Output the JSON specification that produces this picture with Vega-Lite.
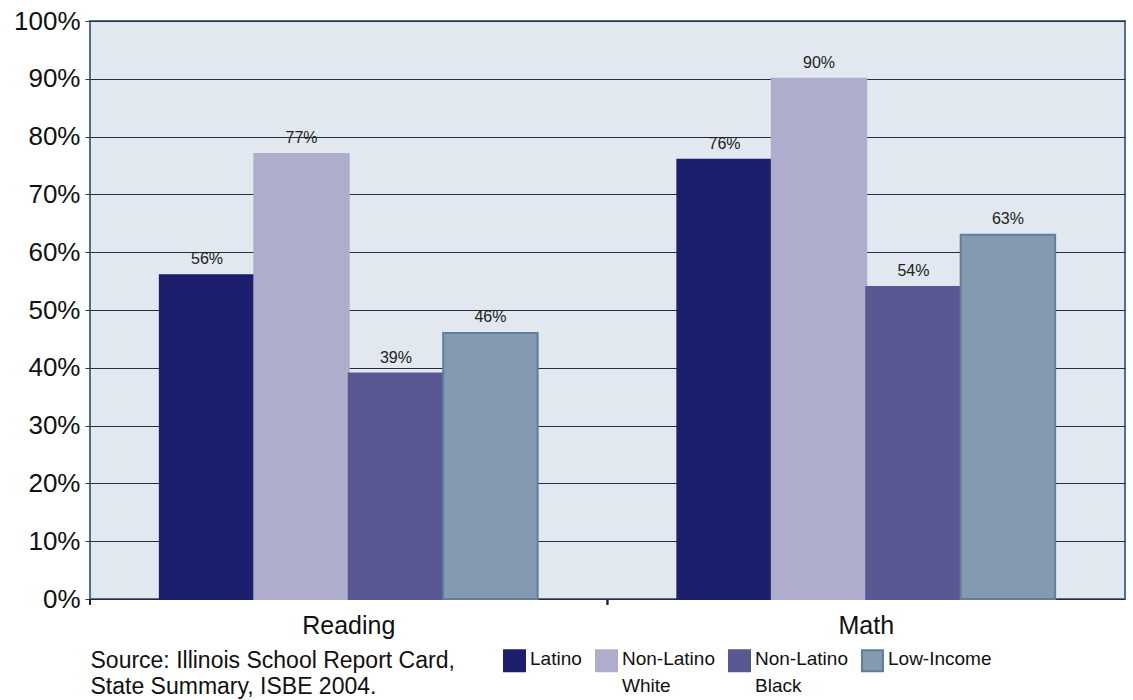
{
  "$schema": "https://vega.github.io/schema/vega-lite/v6.json",
  "width": 1035,
  "height": 578,
  "autosize": {"type": "none"},
  "padding": {"left": 90, "top": 21, "right": 8, "bottom": 101},
  "background": "white",
  "config": {
    "font": "Liberation Sans",
    "view": {"fill": "#e1e8f0", "stroke": "#50708f", "strokeWidth": 2}
  },
  "data": {
    "values": [
      {"subject": "Reading", "group": "Latino", "value": 56},
      {"subject": "Reading", "group": "Non-Latino White", "value": 77},
      {"subject": "Reading", "group": "Non-Latino Black", "value": 39},
      {"subject": "Reading", "group": "Low-Income", "value": 46},
      {"subject": "Math", "group": "Latino", "value": 76},
      {"subject": "Math", "group": "Non-Latino White", "value": 90},
      {"subject": "Math", "group": "Non-Latino Black", "value": 54},
      {"subject": "Math", "group": "Low-Income", "value": 63}
    ]
  },
  "transform": [{"calculate": "datum.value + '%'", "as": "label"}],
  "encoding": {
    "x": {
      "field": "subject", "type": "nominal", "sort": ["Reading", "Math"],
      "scale": {"paddingInner": 0.27, "paddingOuter": 0.135},
      "axis": {
        "title": ["Source: Illinois School Report Card,", "State Summary, ISBE 2004."],
        "titleAnchor": "start", "titleAlign": "left", "titleBaseline": "top",
        "titleFontSize": 23, "titleFontWeight": "normal", "titleColor": "#111", "titleLineHeight": 26, "titlePadding": 11,
        "labelAngle": 0, "labelFontSize": 25, "labelColor": "#111", "ticks": false, "domain": false, "labelPadding": 14
      }
    },
    "y": {
      "field": "value", "type": "quantitative",
      "scale": {"domain": [0, 100]},
      "axis": {"title": null, "values": [0,10,20,30,40,50,60,70,80,90,100], "labelExpr": "datum.value + '%'", "labelFontSize": 26, "labelColor": "#111", "tickSize": 5, "tickColor": "#333", "labelPadding": 5, "domain": false, "gridColor": "#2a2d40", "gridWidth": 1, "gridOpacity": 1}
    }
  },
  "layer": [
    {
      "mark": {"type": "bar", "strokeWidth": 2},
      "encoding": {
        "xOffset": {"field": "group", "type": "nominal", "sort": ["Latino", "Non-Latino White", "Non-Latino Black", "Low-Income"]},
        "fill": {
          "field": "group", "type": "nominal",
          "sort": ["Latino", "Non-Latino White", "Non-Latino Black", "Low-Income"],
          "scale": {"domain": ["Latino", "Non-Latino White", "Non-Latino Black", "Low-Income"], "range": ["#1c1f6e", "#aeaecc", "#5a5892", "#8599b0"]},
          "legend": {
            "title": null, "orient": "none", "legendX": 413, "legendY": 628, "direction": "horizontal",
            "symbolType": "square", "symbolSize": 440, "symbolOpacity": 1, "symbolStrokeWidth": 2,
            "labelFontSize": 19, "labelColor": "#111", "labelOffset": 4, "columnPadding": 10,
            "labelExpr": "split(datum.label, ' ')[0] == 'Non-Latino' ? ['Non-Latino', split(datum.label, ' ')[1]] : [datum.label, ' ']",
            "labelBaseline": "top", "labelLimit": 200, "padding": 0,
            "encode": {"labels": {"update": {"dy": {"value": -11}, "lineHeight": {"value": 27}}}}
          }
        },
        "stroke": {
          "field": "group", "type": "nominal",
          "sort": ["Latino", "Non-Latino White", "Non-Latino Black", "Low-Income"],
          "scale": {"domain": ["Latino", "Non-Latino White", "Non-Latino Black", "Low-Income"], "range": ["#1c1f6e", "#aeaecc", "#5a5892", "#5f7f9c"]},
          "legend": {
            "title": null, "orient": "none", "legendX": 413, "legendY": 628, "direction": "horizontal",
            "symbolType": "square", "symbolSize": 440, "symbolOpacity": 1, "symbolStrokeWidth": 2,
            "labelFontSize": 19, "labelColor": "#111", "labelOffset": 4, "columnPadding": 10,
            "labelExpr": "split(datum.label, ' ')[0] == 'Non-Latino' ? ['Non-Latino', split(datum.label, ' ')[1]] : [datum.label, ' ']",
            "labelBaseline": "top", "labelLimit": 200, "padding": 0,
            "encode": {"labels": {"update": {"dy": {"value": -11}, "lineHeight": {"value": 27}}}}
          }
        }
      }
    },
    {
      "mark": {"type": "text", "dy": -16, "fontSize": 16, "color": "#222"},
      "encoding": {
        "xOffset": {"field": "group", "type": "nominal", "sort": ["Latino", "Non-Latino White", "Non-Latino Black", "Low-Income"]},
        "text": {"field": "label", "type": "nominal"}
      }
    },
    {
      "mark": {"type": "rule", "color": "#222", "strokeWidth": 1.5, "clip": false},
      "encoding": {
        "x": {"field": "subject", "type": "nominal", "sort": ["Reading", "Math"], "bandPosition": -0.185},
        "y": {"datum": 0},
        "y2": {"datum": -1}
      }
    }
  ]
}
